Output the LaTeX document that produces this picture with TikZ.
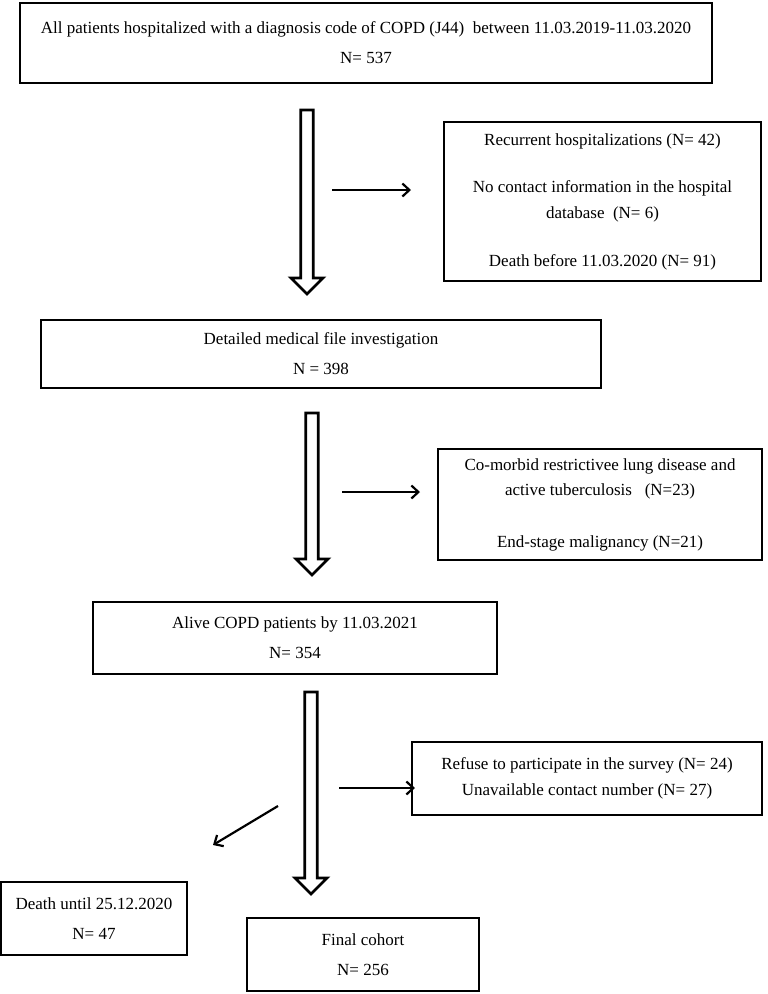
\documentclass[tikz,border=0pt]{standalone}
\usepackage{fontspec}
\setmainfont{Liberation Serif}
\usetikzlibrary{arrows.meta}
\newcommand\hollowarr[3]{\draw[hollow] (#1-6.3,#2) -- (#1+6.3,#2) -- (#1+6.3,#3-16) -- (#1+16,#3-16) -- (#1,#3) -- (#1-16,#3-16) -- (#1-6.3,#3-16) -- cycle;}
\begin{document}
\begin{tikzpicture}[x=1pt,y=-1pt,
  box/.style={draw, line width=1.6pt, inner sep=0pt, align=center, font=\fontsize{17}{30}\selectfont},
  thinarr/.style={line width=2.2pt, -{Straight Barb[length=7pt,width=13pt,line width=2.2pt]}},
  hollow/.style={line width=2.8pt, line join=miter, fill=white}]
\useasboundingbox (0,0) rectangle (768,994);
\node[box, minimum width=692, minimum height=80] (b1) at (366,43)
  {All patients hospitalized with a diagnosis code of COPD (J44)~~between 11.03.2019-11.03.2020\\ N= 537};
\node[box, minimum width=317, minimum height=159] (b2) at (602.5,201.5)
  {Recurrent hospitalizations (N= 42)\\[17pt] No contact information in the hospital\\[-4pt] database~~(N= 6)\\[18pt] Death before 11.03.2020 (N= 91)};
\node[box, minimum width=560, minimum height=68] (b3) at (321,354)
  {Detailed medical file investigation\\ N = 398};
\node[box, minimum width=324, minimum height=111] (b4) at (600,504.5)
  {Co-morbid restrictivee lung disease and\\[-5pt] active tuberculosis~~~(N=23)\\[22pt] End-stage malignancy (N=21)};
\node[box, minimum width=404, minimum height=72] (b5) at (295,638)
  {Alive COPD patients by 11.03.2021\\ N= 354};
\node[box, minimum width=350, minimum height=73] (b6) at (587,778.5)
  {Refuse to participate in the survey (N= 24)\\[-4pt] Unavailable contact number (N= 27)};
\node[box, minimum width=186, minimum height=73] (b7) at (94,918.5)
  {Death until 25.12.2020\\ N= 47};
\node[box, minimum width=232, minimum height=73] (b8) at (363,954.5)
  {Final cohort\\ N= 256};
% hollow down arrows
\hollowarr{307}{110}{294}
\hollowarr{312}{413}{575}
\hollowarr{311}{692}{894}
% exclusion arrows
\coordinate (r1s) at (332,190);
\coordinate (r1e) at (411,190);
\draw[thinarr] (r1s) -- (r1e);
\coordinate (r2s) at (342,492);
\coordinate (r2e) at (420,492);
\draw[thinarr] (r2s) -- (r2e);
\coordinate (r3s) at (339,788);
\coordinate (r3e) at (415,788);
\draw[thinarr] (r3s) -- (r3e);
\coordinate (d1s) at (278,806);
\coordinate (d1e) at (213,845);
\draw[thinarr] (d1s) -- (d1e);
\end{tikzpicture}
\end{document}
